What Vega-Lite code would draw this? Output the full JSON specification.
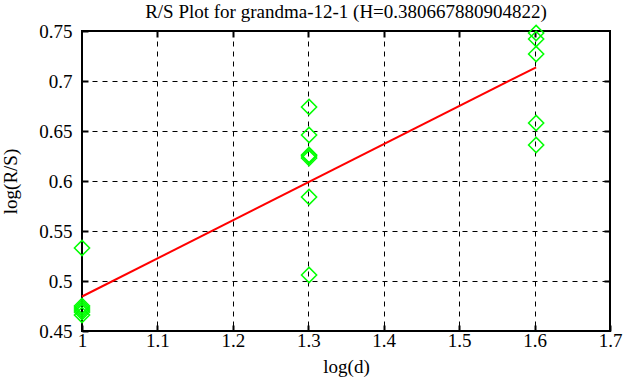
{
  "$schema": "https://vega.github.io/schema/vega-lite/v6.json",
  "width": 528,
  "height": 300,
  "autosize": "none",
  "padding": {"left": 82, "top": 31, "right": 16, "bottom": 56},
  "background": "white",
  "title": {"text": "R/S Plot for grandma-12-1 (H=0.380667880904822)", "font": "Liberation Serif", "fontSize": 19, "fontWeight": "normal", "color": "black", "offset": 0, "anchor": "middle"},
  "config": {
    "font": "Liberation Serif",
    "view": {"stroke": "black", "strokeWidth": 2},
    "axis": {
      "labelFont": "Liberation Serif", "labelFontSize": 19, "labelColor": "black",
      "titleFont": "Liberation Serif", "titleFontSize": 19, "titleFontWeight": "normal", "titleColor": "black",
      "domain": false, "tickColor": "black", "tickWidth": 2, "tickSize": -6,
      "gridColor": "black", "gridDash": [5, 5], "gridWidth": 1, "gridOpacity": 1
    }
  },
  "resolve": {"axis": {"x": "independent", "y": "independent"}},
  "layer": [
    {
      "data": {"values": [
        {"x": 1, "y": 0.533},
        {"x": 1, "y": 0.475},
        {"x": 1, "y": 0.473},
        {"x": 1, "y": 0.471},
        {"x": 1, "y": 0.469},
        {"x": 1, "y": 0.466},
        {"x": 1.30103, "y": 0.674},
        {"x": 1.30103, "y": 0.646},
        {"x": 1.30103, "y": 0.626},
        {"x": 1.30103, "y": 0.625},
        {"x": 1.30103, "y": 0.623},
        {"x": 1.30103, "y": 0.584},
        {"x": 1.30103, "y": 0.506},
        {"x": 1.60206, "y": 0.748},
        {"x": 1.60206, "y": 0.742},
        {"x": 1.60206, "y": 0.727},
        {"x": 1.60206, "y": 0.658},
        {"x": 1.60206, "y": 0.636}
      ]},
      "mark": {"type": "point", "shape": "diamond", "filled": false, "color": "#00ff00", "size": 230, "strokeWidth": 1.5, "opacity": 1, "clip": false},
      "encoding": {
        "x": {"field": "x", "type": "quantitative", "scale": {"domain": [1, 1.7], "nice": false, "zero": false},
          "axis": {"title": "log(d)", "values": [1, 1.1, 1.2, 1.3, 1.4, 1.5, 1.6, 1.7], "format": "~g", "labelPadding": 6, "titleY": 26, "labelFlush": false, "labelBound": false,
            "labelFont": "Liberation Serif", "labelFontSize": 19, "titleFont": "Liberation Serif", "titleFontSize": 19}},
        "y": {"field": "y", "type": "quantitative", "scale": {"domain": [0.45, 0.75], "nice": false, "zero": false},
          "axis": {"title": "log(R/S)", "values": [0.45, 0.5, 0.55, 0.6, 0.65, 0.7, 0.75], "format": "~g", "labelPadding": 16, "titleX": -62, "labelFlush": false,
            "labelFont": "Liberation Serif", "labelFontSize": 19, "titleFont": "Liberation Serif", "titleFontSize": 19}}
      }
    },
    {
      "data": {"values": [
        {"x": 1, "y": 0.4845},
        {"x": 1.60206, "y": 0.7137}
      ]},
      "mark": {"type": "line", "color": "#ff0000", "strokeWidth": 2},
      "encoding": {
        "x": {"field": "x", "type": "quantitative", "scale": {"domain": [1, 1.7], "nice": false, "zero": false},
          "axis": {"orient": "top", "labels": false, "grid": false, "title": null, "values": [1.1, 1.2, 1.3, 1.4, 1.5, 1.6]}},
        "y": {"field": "y", "type": "quantitative", "scale": {"domain": [0.45, 0.75], "nice": false, "zero": false},
          "axis": {"orient": "right", "labels": false, "grid": false, "title": null, "values": [0.5, 0.55, 0.6, 0.65, 0.7]}}
      }
    }
  ]
}
